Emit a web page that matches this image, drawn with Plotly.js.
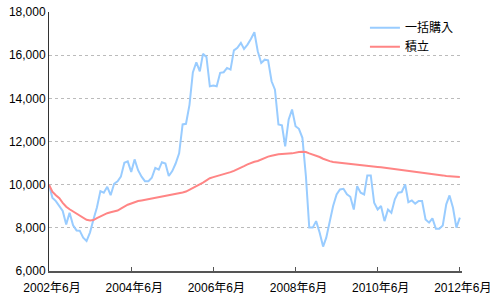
<!DOCTYPE html>
<html>
<head>
<meta charset="utf-8">
<script src="https://cdn.plot.ly/plotly-3.0.1.min.js"></script>
<style>html,body{margin:0;padding:0;background:#fff;}#chart{width:500px;height:300px;}</style>
</head>
<body>
<div id="chart"></div>
<script>
// Months from 2002-06 to 2012-06
const startYear = 2002, startMonth = 6, monthCount = 121;
const months = [];
for (let i = 0; i < monthCount; i++) {
  const t = startMonth - 1 + i;
  const y = startYear + Math.floor(t / 12);
  const m = (t % 12) + 1;
  months.push(y + '-' + String(m).padStart(2, '0') + '-01');
}

const seriesNames = ['一括購入', '積立'];

const lumpSum = [
  10000, 9400, 9240, 9000, 8780, 8160, 8700, 8115, 7880, 7870,
  7545, 7390, 7790, 8390, 8940, 9700, 9630, 9900, 9510, 10040,
  10160, 10370, 11015, 11080, 10590, 11170, 10670, 10370, 10160, 10160,
  10320, 10780, 10700, 11040, 10980, 10400, 10630, 10980, 11450, 12790,
  12820, 13700, 15200, 15670, 15250, 16060, 15920, 14560, 14590, 14560,
  15180, 15210, 15410, 15330, 16220, 16340, 16570, 16290, 16490, 16750,
  17060, 16180, 15640, 15790, 15760, 14790, 14400, 12790, 12750, 11780,
  13020, 13480, 12710, 12590, 12170, 10400, 8010, 8010, 8310, 7780,
  7130, 7545, 8310, 9010, 9550, 9780, 9810, 9550, 9440, 8850,
  9930, 9630, 9550, 10430, 10430, 9160, 8850, 9010, 8310, 8850,
  8700, 9320, 9630, 9660, 10010, 9190, 9270, 9120, 9240, 9240,
  8390, 8240, 8440, 7960, 7960, 8110, 9090, 9500, 8930, 8010,
  8470
];

const installment = [
  10000, 9680, 9510, 9370, 9160, 8980, 8860, 8760, 8650, 8545,
  8440, 8370, 8340, 8360, 8450, 8540, 8610, 8680, 8720, 8760,
  8800, 8890, 9000, 9070, 9130, 9200, 9240, 9270, 9300, 9330,
  9360, 9385, 9410, 9450, 9480, 9495, 9520, 9565, 9600, 9640,
  9680, 9760, 9850, 9940, 10030, 10100, 10200, 10300, 10350, 10390,
  10430, 10470, 10520, 10580, 10640, 10705, 10780, 10860, 10940, 11015,
  11060, 11095, 11170, 11240, 11300, 11340, 11380, 11405, 11425, 11445,
  11445, 11450, 11490, 11510, 11520, 11510, 11450, 11400, 11340, 11280,
  11200, 11140, 11090, 11050, 11030, 11010, 10990, 10970, 10955, 10940,
  10930, 10910, 10895, 10880, 10860, 10840, 10820, 10805, 10785, 10760,
  10730, 10710, 10700, 10690, 10670, 10650, 10635, 10610, 10590, 10570,
  10550, 10525, 10500, 10480, 10455, 10430, 10400, 10395, 10390, 10360,
  10350
];

const xTickVals = ['2002-06-01', '2004-06-01', '2006-06-01', '2008-06-01', '2010-06-01', '2012-06-01'];
const xTickText = ['2002年6月', '2004年6月', '2006年6月', '2008年6月', '2010年6月', '2012年6月'];
const yTickVals = [6000, 8000, 10000, 12000, 14000, 16000, 18000];
const yTickText = ['6,000', '8,000', '10,000', '12,000', '14,000', '16,000', '18,000'];

const FONT = '"Liberation Sans", Arial, "Noto Sans CJK JP", sans-serif';

const traces = [
  {x: months, y: lumpSum, name: seriesNames[0], type: 'scatter', mode: 'lines',
   line: {color: '#99ccff', width: 2}},
  {x: months, y: installment, name: seriesNames[1], type: 'scatter', mode: 'lines',
   line: {color: '#ff8585', width: 2}}
];

const layout = {
  width: 500, height: 300,
  margin: {l: 49, r: 38, t: 12, b: 29, pad: 0},
  paper_bgcolor: '#ffffff', plot_bgcolor: '#ffffff',
  font: {family: FONT, size: 12, color: '#000'},
  showlegend: true,
  legend: {x: 0.765, y: 0.995, xanchor: 'left', yanchor: 'top', bgcolor: 'rgba(0,0,0,0)',
           font: {family: FONT, size: 12, color: '#000'}, tracegroupgap: 0},
  xaxis: {
    type: 'date', range: ['2002-06-01', '2012-06-20'],
    tickmode: 'array', tickvals: xTickVals, ticktext: xTickText,
    ticks: 'inside', ticklen: 4, tickcolor: '#555', tickwidth: 1,
    showline: true, linecolor: '#555', linewidth: 1.5,
    showgrid: false, zeroline: false, fixedrange: true,
    tickfont: {family: FONT, size: 12, color: '#000'}, ticklabelshift: 3,
    ticklabelstandoff: 5
  },
  yaxis: {
    range: [6000, 18000],
    tickmode: 'array', tickvals: yTickVals, ticktext: yTickText,
    ticks: '', showline: true, linecolor: '#333', linewidth: 1,
    showgrid: true, gridcolor: '#bbbbbb', griddash: 'dot', gridwidth: 1,
    zeroline: false, fixedrange: true,
    tickfont: {family: FONT, size: 12, color: '#000'}
  }
};

Plotly.newPlot('chart', traces, layout, {staticPlot: true, displayModeBar: false});
</script>
</body>
</html>
